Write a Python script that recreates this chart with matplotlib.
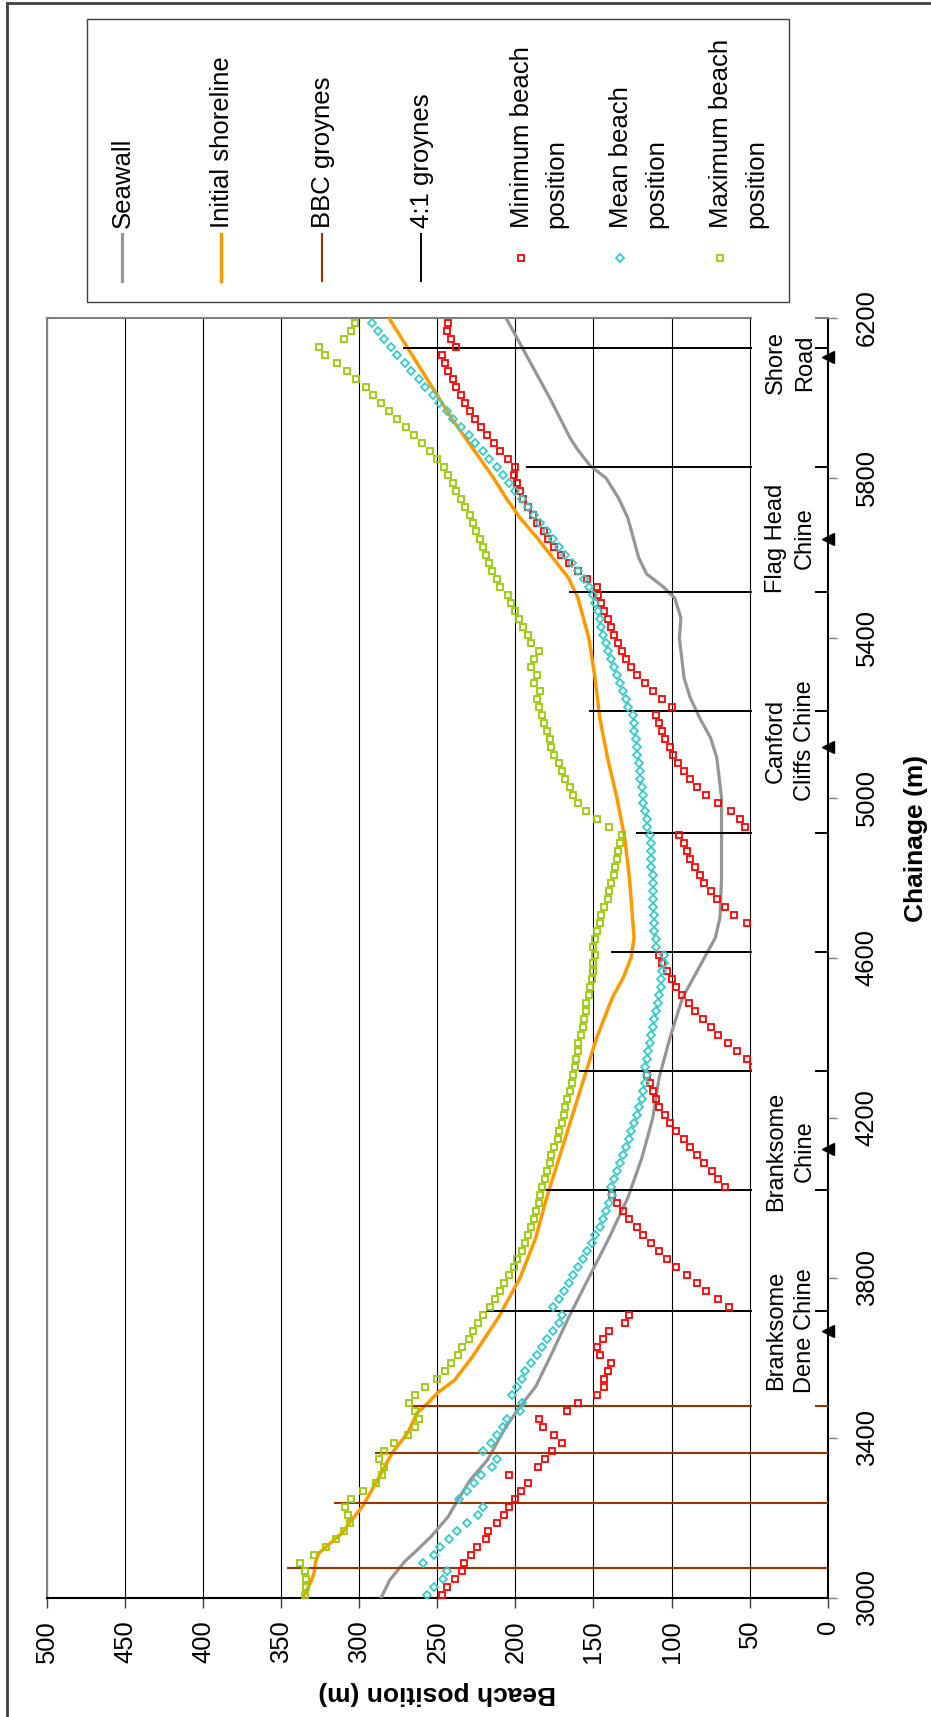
import numpy as np
import matplotlib
matplotlib.use('Agg')
import matplotlib.pyplot as plt
from matplotlib.patches import Rectangle

plt.rcParams['font.family'] = ['Liberation Sans', 'DejaVu Sans']

# chainage of the beach position points (m)
chain = np.arange(3008, 6189, 20)

min_pos = [247, 244, 238.5, 234, 233, 228.5, 224.7, 219, 217.5, 212, 207, 204, 200.3, 196.3,
           191.8, 204.4, 185.3, 180.8, 176.6, 170, 175, 182.3, 184.6, 167, 159.8, 148, 143.4, 143.4,
           141, 139, 146, 148, 144, 140, 130, 127,
           63, 70, 78, 84, 90, 97, 103, 108, 113, 118, 122, 127, 131, 135, 138,
           66, 70, 74, 79, 84, 88, 92, 97, 101, 104, 108, 110, 112, 114, 116,
           48, 52, 58, 64, 70, 75, 80, 85, 89, 93, 97, 100, 103, 106, 108,
           36, 40, 44, 52, 60, 66, 71, 75, 79, 82, 85, 88, 90, 92, 95,
           53, 56, 62, 70, 78, 84, 88, 92, 96, 99, 101, 104, 106, 108, 110,
           100, 106, 112, 117, 122, 126, 129, 132, 134, 137, 139, 141, 143, 145, 147,
           148, 154, 160, 166, 171, 175, 179, 182, 186, 189, 192, 195, 197, 199, 201,
           200, 205, 210, 214, 218, 222, 226, 229, 232, 235, 238, 240, 243, 245, 247,
           238, 241, 244, 243]

mean_pos = [256.6, 252, 246.3, 243.6, 258.9, 252, 248.2, 242.5, 237.5, 231, 224.2, 220.8, 236, 231,
            226.5, 222.3, 214.7, 212, 220.8, 215.8, 212, 208.2, 205.6, 196.8, 195.6, 202.5, 199, 196,
            194, 190, 186, 183, 180, 176, 172, 170,
            176, 172, 169, 166, 163, 160, 157, 154, 151, 149, 146, 144, 142, 140, 138,
            139, 137, 135, 133, 131, 129, 127, 126, 124, 122, 121, 119, 118, 117, 116,
            117, 116, 115, 114, 113, 112, 111, 110, 109, 108, 107, 107, 106, 105, 105,
            110, 110, 111, 111, 111, 112, 112, 112, 112, 112, 113, 113, 113, 113, 114,
            116, 116, 117, 118, 118, 119, 120, 120, 121, 122, 122, 123, 124, 124, 125,
            128, 129, 131, 133, 135, 137, 139, 141, 142, 144, 145, 146, 147, 149, 150,
            153, 156, 160, 164, 168, 172, 176, 180, 184, 188, 192, 196, 200, 204, 208,
            212, 217, 221, 226, 230, 235, 240, 244, 249, 253, 258, 262, 267, 271, 276,
            280, 284, 288, 292]

max_pos = [335, 334, 334, 335, 337.7, 329, 321.3, 315, 310, 306, 307.2, 309, 305.3, 297.7,
           289, 285.5, 284.4, 287.4, 284.4, 277.5, 269, 264.6, 261.5, 264.6, 268, 264.6, 257.8, 250,
           245, 241, 237, 234, 230, 227, 224, 221,
           216, 213, 210, 207, 204, 201, 199, 196, 194, 192, 190, 188, 187, 185, 184,
           183, 181, 180, 178, 177, 175, 173, 172, 170, 169, 168, 167, 165, 164, 163,
           162, 161, 160, 160, 158, 157, 156, 155, 155, 153, 152, 151, 150, 150, 149,
           150, 149, 148, 146, 145, 143, 141, 140, 139, 137, 136, 135, 134, 133, 132,
           140, 148, 155, 160, 163, 165, 168, 170, 172, 175, 177, 178, 180, 182, 183,
           185, 186, 184, 188, 186, 190, 188, 185, 190, 192, 195, 198, 200, 203, 205,
           210, 212, 215, 217, 219, 221, 223, 225, 227, 229, 232, 235, 238, 240, 243,
           246, 250, 255, 260, 265, 270, 276, 281, 286, 291, 296, 302, 308, 314, 322,
           326, 310, 305, 303]

initial_ch = [3000, 3040, 3061, 3090, 3111, 3128, 3162, 3194, 3228, 3269, 3311, 3362, 3412, 3462,
              3487, 3512, 3544, 3600, 3700, 3800, 3900, 4000, 4100, 4200, 4300, 4400, 4500, 4550,
              4600, 4650, 4700, 4800, 4900, 5000, 5100, 5200, 5300, 5400, 5500, 5550, 5600, 5650,
              5700, 5750, 5800, 5850, 5900, 5950, 6000, 6050, 6100, 6150, 6200]
initial_pos = [336, 331, 329, 328, 326, 321, 311, 305, 298, 292, 286, 279, 269, 263,
               256, 250, 239, 228, 211, 197, 187, 180, 172, 164, 156, 148, 138, 131,
               126, 124, 125, 127, 130, 135, 141, 146, 149, 153, 160, 166, 176, 186,
               197, 206, 214, 223, 232, 241, 249, 257, 265, 273, 281]

seawall_ch = [3000, 3044, 3090, 3119, 3153, 3203, 3244, 3294, 3344, 3428, 3478, 3528, 3600, 3700,
              3800, 3900, 4000, 4100, 4200, 4300, 4400, 4500, 4550, 4600, 4650, 4700, 4800, 4900,
              5000, 5100, 5150, 5200, 5250, 5300, 5400, 5450, 5500, 5530, 5560, 5600, 5700, 5750,
              5800, 5830, 5870, 5900, 6000, 6100, 6200]
seawall_pos = [286, 280.5, 271, 263, 254, 243, 237, 229, 218, 206, 197, 187, 178, 166,
               153, 140, 128, 119, 112, 108, 101, 93, 86, 79, 72, 69, 68, 68,
               68, 71, 75, 82, 88, 92, 95, 94, 98, 106, 116, 121, 128, 134,
               142, 152, 160, 165, 178, 192, 206]

bbc_ch = [3074, 3237, 3362, 3480]
bbc_start = [346, 316, 290, 266]
g41_ch = [3718, 4019, 4318, 4615, 4913, 5218, 5515, 5827, 6124]
g41_start = [219, 184, 159, 139, 123, 153, 166, 193, 272]

chine_names = ['Branksome\nDene Chine', 'Branksome\nChine', 'Canford\nCliffs Chine',
               'Flag Head\nChine', 'Shore\nRoad']
chine_ch = [3667, 4122, 5126, 5648, 6102]
chine_label_ch = [3668, 4117, 5142, 5650, 6088]

W, H = 931, 1717
fig = plt.figure(figsize=(W / 100, H / 100), dpi=100)

# overlay in pixel units for legend and chart border
ov = fig.add_axes([0, 0, 1, 1], zorder=0)
ov.set_xlim(0, W)
ov.set_ylim(H, 0)
ov.axis('off')
ov.plot([7, 7], [3, H + 5], color='#404040', lw=2, clip_on=False)
ov.plot([7, W + 5], [3, 3], color='#404040', lw=2, clip_on=False)
ov.add_patch(Rectangle((87, 19), 702, 283, fill=False, edgecolor='#404040', lw=1))

ax = fig.add_axes([47 / W, 1 - 1597.7 / H, (827.7 - 47) / W, (1597.7 - 318) / H], zorder=1)
ax.set_xlim(500, 0)
ax.set_ylim(3000, 6200)

ax.plot(seawall_pos, seawall_ch, color='#969696', lw=2.3, zorder=3)
ax.plot(initial_pos, initial_ch, color='#FF9900', lw=2.5, zorder=3)
ax.hlines(bbc_ch, bbc_start, 0, color='#993300', lw=1.5, zorder=3)
ax.hlines(g41_ch, g41_start, 0, color='black', lw=1.4, zorder=3)
ax.plot(min_pos, chain, ls='none', marker='s', ms=4.7, mfc='none', mec='#FF0000', mew=1.3, zorder=4)
ax.plot(mean_pos, chain, ls='none', marker='D', ms=4.2, mfc='none', mec='#33CCCC', mew=1.3, zorder=4)
ax.plot(max_pos, chain, ls='none', marker='s', ms=4.7, mfc='none', mec='#99CC00', mew=1.3, zorder=4)

# white box behind the place names
ax.add_patch(Rectangle((48.5, 3440), -40.5, 2780, facecolor='white', edgecolor='none',
                       zorder=5, clip_on=False))
for name, c in zip(chine_names, chine_label_ch):
    ax.text(24, c, name, rotation=90, ha='center', va='center', fontsize=17,
            multialignment='center', linespacing=1.4, zorder=6)
ax.plot(np.zeros(len(chine_ch)), chine_ch, ls='none', marker='<', ms=8, color='black',
        clip_on=False, zorder=7)

ax.set_xticks(np.arange(0, 501, 50))
ax.yaxis.tick_right()
ax.set_yticks(np.arange(3000, 6201, 400))
ax.tick_params(axis='x', direction='out', length=7, width=1, pad=9, labelsize=18.4,
               labelrotation=90, color='#404040')
ax.tick_params(axis='y', direction='out', length=6.5, width=1, pad=13, labelsize=18.4,
               labelrotation=90, color='#808080')
plt.setp(ax.get_yticklabels(), va='center')
ax.grid(axis='x', color='black', lw=0.8)
ax.set_axisbelow(True)
for s in ['left', 'top']:
    ax.spines[s].set_color('#808080')
    ax.spines[s].set_linewidth(1.5)
for s in ['right', 'bottom']:
    ax.spines[s].set_color('black')
    ax.spines[s].set_linewidth(1.5)

fig.text(437.5 / W, 1 - 1693 / H, 'Beach position (m)', rotation=180, ha='center', va='center',
         fontsize=19, fontweight='bold')
fig.text(916 / W, 1 - 838 / H, 'Chainage (m)', rotation=90, ha='center', va='center',
         fontsize=19, fontweight='bold')

# legend (drawn rotated, entries left to right)
leg_x = [121.7, 220.7, 321.7, 420.7, 520.7, 620, 720]
ov.plot([leg_x[0]] * 2, [234, 281], color='#969696', lw=2.3)
ov.plot([leg_x[1]] * 2, [234, 281], color='#FF9900', lw=2.5)
ov.plot([leg_x[2]] * 2, [234, 281], color='#993300', lw=1.5)
ov.plot([leg_x[3]] * 2, [234, 281], color='black', lw=1.4)
ov.plot([leg_x[4]], [258], marker='s', ms=4.7, mfc='none', mec='#FF0000', mew=1.3)
ov.plot([leg_x[5]], [258], marker='D', ms=4.2, mfc='none', mec='#33CCCC', mew=1.3)
ov.plot([leg_x[6]], [258], marker='s', ms=4.7, mfc='none', mec='#99CC00', mew=1.3)
leg_labels = ['Seawall', 'Initial shoreline', 'BBC groynes', '4:1 groynes',
              'Minimum beach\nposition', 'Mean beach\nposition', 'Maximum beach\nposition']
for lx, lab in zip(leg_x, leg_labels):
    ov.text(lx - 11, 228, lab, rotation=90, ha='left', va='bottom', fontsize=18.5,
            linespacing=1.58)

fig.savefig('out.png', dpi=100)
